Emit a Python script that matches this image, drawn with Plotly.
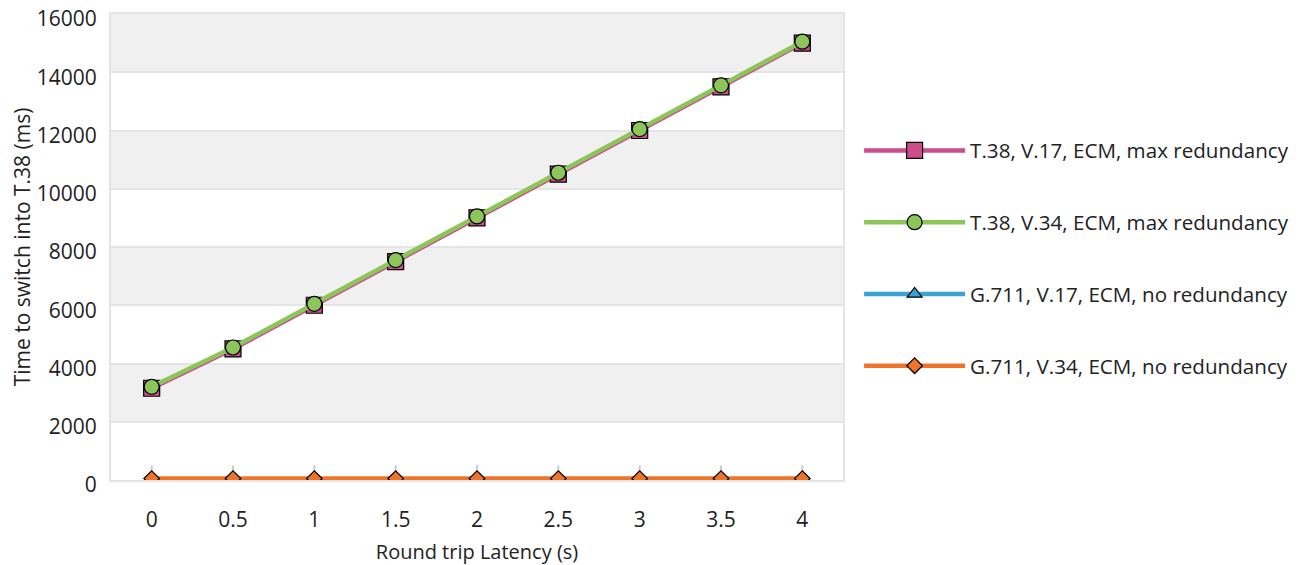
import plotly.graph_objects as go

latency = [0, 0.5, 1, 1.5, 2, 2.5, 3, 3.5, 4]
t38_v17 = [3150, 4500, 6000, 7500, 9000, 10500, 12000, 13500, 15000]
t38_v34 = [3200, 4550, 6050, 7550, 9050, 10550, 12050, 13550, 15050]
g711_v17 = [0, 0, 0, 0, 0, 0, 0, 0, 0]
g711_v34 = [50, 50, 50, 50, 50, 50, 50, 50, 50]

names = ["T.38, V.17, ECM, max redundancy", "T.38, V.34, ECM, max redundancy",
         "G.711, V.17, ECM, no redundancy", "G.711, V.34, ECM, no redundancy"]
colors = ["#cc4c8c", "#8cc65a", "#3ba3d0", "#f07428"]
symbols = ["square", "circle", "triangle-up", "diamond"]
sizes = [16, 15, 13, 12]
series = [t38_v17, t38_v34, g711_v17, g711_v34]

fig = go.Figure()
for i, (nm, ys) in enumerate(zip(names, series)):
    kw = {}
    if i == 3:
        kw["error_y"] = dict(type="data", symmetric=False, array=[450] * len(ys),
                             arrayminus=[0] * len(ys), color="#cccccc", thickness=2, width=0)
    fig.add_trace(go.Scatter(
        x=latency, y=ys, name=nm, mode="lines+markers",
        line=dict(color=colors[i], width=4.5),
        marker=dict(symbol=symbols[i], size=sizes[i], color=colors[i],
                    line=dict(color="#000000", width=1.2)),
        legendgroup=str(i), **kw))

shapes = []
for lo in [2000, 6000, 10000, 14000]:
    shapes.append(dict(type="rect", xref="paper", yref="y", x0=0, x1=1, y0=lo, y1=lo + 2000,
                       fillcolor="#f0f0f0", line=dict(width=0), layer="below"))

FONT = "Open Sans, Lato, sans-serif"
fig.update_layout(
    width=1304, height=557,
    margin=dict(l=103, r=469, t=6, b=85, autoexpand=False),
    paper_bgcolor="white", plot_bgcolor="white",
    font=dict(family=FONT, size=20, color="#222222"),
    shapes=shapes,
    showlegend=True,
    legend=dict(x=1.022, y=0.75, xanchor="left", yanchor="top",
                traceorder="grouped", tracegroupgap=42, itemwidth=101,
                font=dict(family=FONT, size=20.6, color="#222222")),
)
fig.update_xaxes(range=[-0.25, 4.25], tickvals=latency, ticktext=[str(v) for v in latency],
                 showgrid=False, zeroline=False, showline=True, linecolor="#e4e4e4", linewidth=2,
                 mirror=True, ticks="", automargin=False, ticklabelstandoff=20,
                 tickfont=dict(size=21),
                 title=dict(text="Round trip Latency (s)", standoff=14, font=dict(size=20)))
fig.update_yaxes(range=[0, 16000], dtick=2000, tickformat="d", showgrid=True, gridcolor="#e4e4e4",
                 gridwidth=2, zeroline=False, showline=True, linecolor="#e4e4e4", linewidth=2,
                 mirror=True, ticks="", automargin=False, ticklabelstandoff=8,
                 ticklabelshift=5, ticklabeloverflow="allow",
                 tickfont=dict(size=21),
                 title=dict(text="Time to switch into T.38 (ms)", standoff=12, font=dict(size=21)))

fig.write_html("out.html")
